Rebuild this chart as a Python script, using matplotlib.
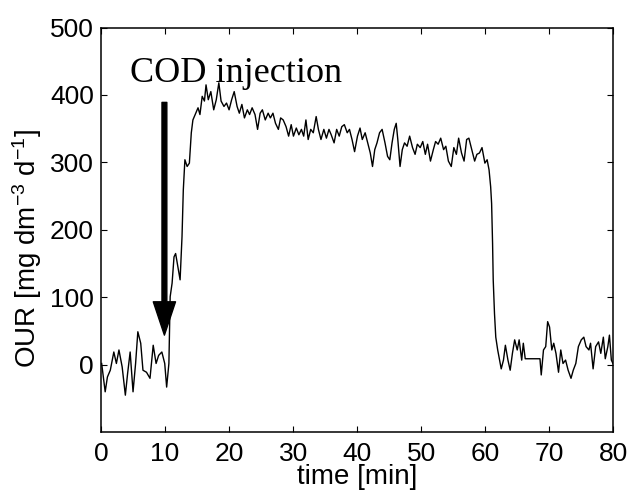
import matplotlib
matplotlib.use("Agg")
import matplotlib.pyplot as plt
from matplotlib.patches import FancyArrowPatch

# time [min]
t = [0.1, 0.65, 1.0, 1.45, 2.0, 2.4, 2.8, 3.3, 3.8, 4.15,
     4.55, 5.0, 5.4, 5.75, 6.2, 6.55, 7.1, 7.65, 8.15, 8.6,
     9.0, 9.5, 9.95, 10.25, 10.6, 10.8, 11.1, 11.4, 11.65, 12.1,
     12.35, 12.65, 12.85, 13.1, 13.45, 13.8, 14.1, 14.35, 14.8, 15.15,
     15.45, 15.8, 16.15, 16.4, 16.75, 17.15, 17.6, 18.0, 18.4, 18.75,
     19.2, 19.6, 20.0, 20.4, 20.8, 21.25, 21.6, 22.0, 22.4, 22.85,
     23.2, 23.6, 24.05, 24.45, 24.85, 25.2, 25.65, 26.1, 26.45, 26.85,
     27.25, 27.7, 28.05, 28.45, 28.9, 29.3, 29.7, 30.05, 30.5, 30.9,
     31.3, 31.65, 32.0, 32.35, 32.75, 33.15, 33.6, 33.95, 34.35, 34.8,
     35.2, 35.6, 35.95, 36.4, 36.8, 37.2, 37.6, 38.0, 38.45, 38.8,
     39.2, 39.6, 40.05, 40.45, 40.8, 41.25, 41.65, 42.05, 42.4, 42.75,
     43.1, 43.5, 43.9, 44.35, 44.75, 45.1, 45.45, 45.8, 46.1, 46.35,
     46.7, 47.05, 47.4, 47.8, 48.2, 48.65, 49.05, 49.4, 49.85, 50.25,
     50.65, 51.0, 51.45, 51.9, 52.25, 52.65, 53.05, 53.5, 53.85, 54.25,
     54.7, 55.1, 55.5, 55.85, 56.3, 56.7, 57.1, 57.45, 57.9, 58.35,
     58.7, 59.1, 59.5, 59.95, 60.3, 60.6, 60.85, 61.0, 61.15, 61.25,
     61.45, 61.65, 61.95, 62.2, 62.5, 62.85, 63.15, 63.55, 63.9, 64.25,
     64.6, 65.0, 65.3, 65.7, 65.95, 66.25, 68.55, 68.75, 69.1, 69.45,
     69.75, 70.05, 70.4, 70.7, 71.05, 71.45, 71.8, 72.15, 72.55, 72.95,
     73.4, 73.75, 74.15, 74.55, 75.0, 75.4, 75.75, 76.2, 76.45, 76.85,
     77.25, 77.7, 78.05, 78.45, 78.75, 79.15, 79.4, 79.7, 79.95]

# OUR [mg dm-3 d-1]
our = [2, -40, -18, -8, 19, 2, 22, -3, -45, -13,
       19, -40, 2, 49, 32, -8, -11, -20, 29, 2,
       14, 19, 2, -33, 2, 101, 121, 160, 165, 140,
       126, 190, 259, 304, 294, 299, 344, 363, 373, 381,
       371, 398, 391, 415, 393, 405, 378, 393, 418, 391,
       383, 388, 378, 393, 405, 383, 373, 386, 366, 378,
       371, 381, 371, 349, 373, 378, 363, 373, 366, 373,
       358, 349, 366, 363, 353, 339, 356, 339, 351, 341,
       349, 339, 363, 334, 349, 344, 368, 349, 334, 349,
       336, 349, 341, 329, 349, 339, 353, 356, 344, 349,
       334, 316, 339, 351, 334, 344, 329, 314, 294, 319,
       329, 344, 349, 329, 309, 304, 329, 349, 358, 334,
       294, 319, 329, 324, 339, 322, 312, 327, 322, 331,
       312, 327, 302, 319, 331, 327, 336, 319, 324, 302,
       294, 322, 312, 336, 314, 302, 334, 336, 319, 302,
       312, 314, 322, 299, 304, 289, 264, 239, 180, 126,
       76, 41, 22, 9, -6, 7, 29, 7, -8, 17,
       37, 22, 37, 7, 32, 9, 9, -15, 22, 27,
       64, 56, 22, 32, 17, -11, 22, 2, 7, -8,
       -20, -8, 2, 27, 37, 41, 27, 22, 32, -6,
       27, 34, 17, 41, 9, 27, 44, 7, 2]

x_ticks = [0, 10, 20, 30, 40, 50, 60, 70, 80]
y_ticks = [0, 100, 200, 300, 400, 500]

annot_text = "COD injection"
arrow_start = (9.9, 389)
arrow_end = (9.9, 44)

plt.rcParams['font.family'] = ['Liberation Sans', 'DejaVu Sans']
plt.rcParams['mathtext.default'] = 'regular'

fig = plt.figure(figsize=(6.29, 5.04), dpi=100)
ax = fig.add_axes([0.1606, 0.1423, 0.8144, 0.8031])

ax.plot(t, our, color='black', linewidth=1.0)

ax.set_xlim(0, 80)
ax.set_ylim(-100, 500)
ax.set_xticks(x_ticks)
ax.set_yticks(y_ticks)
ax.tick_params(direction='in', length=4.5, width=0.8, labelsize=19,
               top=True, right=True)
ax.tick_params(axis='x', pad=7)
ax.tick_params(axis='y', pad=5)
for s in ax.spines.values():
    s.set_linewidth(1.1)

ax.set_xlabel('time [min]', fontsize=20, va='center')
ax.xaxis.set_label_coords(0.5, -0.11)
ax.set_ylabel(r'OUR [mg dm$^{-3}$ d$^{-1}$]', fontsize=20, va='center')
ax.yaxis.set_label_coords(-0.145, 0.455)

ax.text(4.5, 419, annot_text, family=['Liberation Serif', 'DejaVu Serif'],
        fontsize=26, va='baseline', ha='left')

arr = FancyArrowPatch(arrow_start, arrow_end,
                      arrowstyle='simple,head_width=16,head_length=24,tail_width=3.5',
                      mutation_scale=1, color='black', shrinkA=0, shrinkB=0)
ax.add_patch(arr)

fig.savefig('out.png', dpi=100)
